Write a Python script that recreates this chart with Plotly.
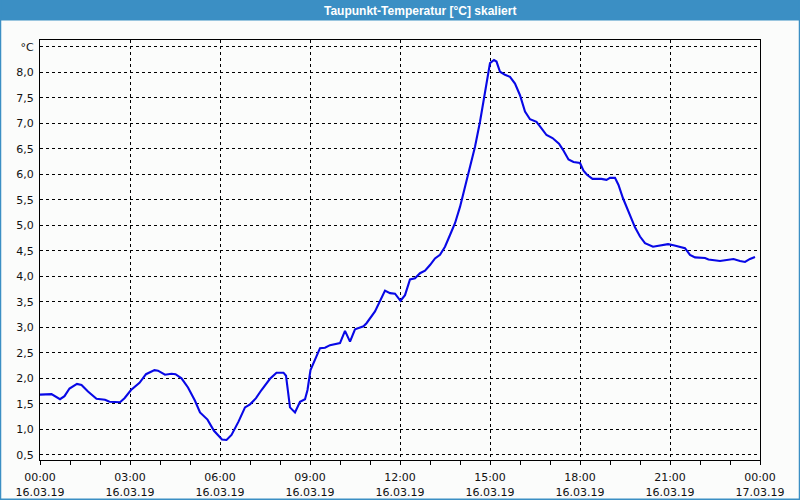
import plotly.graph_objects as go

# ---------------- data ----------------
DAY = "2019-03-16"
times = ["00:00","00:23","00:40","00:49","00:59","01:14","01:23","01:36","01:53","02:10",
         "02:19","02:40","02:49","03:02","03:19","03:32","03:49","03:56","04:10","04:23",
         "04:31","04:43","04:56","05:10","05:20","05:35","05:48","06:04","06:13","06:23",
         "06:37","06:50","07:00","07:12","07:23","07:40","07:53","08:07","08:12","08:17",
         "08:20","08:30","08:40","08:50","08:55","09:01","09:10","09:20","09:30","09:40",
         "10:00","10:10","10:20","10:30","10:47","10:53","11:10","11:20","11:30","11:40",
         "11:50","12:01","12:10","12:20","12:30","12:40","12:50","13:00","13:10","13:20",
         "13:30","13:40","13:50","14:00","14:10","14:17","14:30","14:40","14:48","14:53",
         "15:00","15:08","15:13","15:20","15:30","15:40","15:50","16:00","16:10","16:20",
         "16:33","16:43","16:53","17:05","17:18","17:26","17:37","17:47","18:00","18:07",
         "18:14","18:25","18:43","18:53","19:00","19:10","19:17","19:26","19:40","19:50",
         "20:00","20:10","20:26","20:43","20:56","21:07","21:20","21:30","21:40","21:50",
         "22:10","22:17","22:40","22:53","23:07","23:20","23:30","23:40","23:50"]
dewpoint = [1.68,1.69,1.59,1.65,1.80,1.89,1.87,1.74,1.60,1.58,
            1.54,1.53,1.61,1.77,1.91,2.08,2.16,2.15,2.07,2.09,
            2.08,2.00,1.82,1.56,1.33,1.19,0.97,0.80,0.79,0.89,
            1.15,1.43,1.49,1.61,1.77,1.99,2.11,2.11,2.05,1.71,
            1.43,1.33,1.54,1.59,1.77,2.16,2.36,2.59,2.60,2.65,
            2.69,2.93,2.72,2.96,3.02,3.08,3.31,3.53,3.72,3.67,
            3.66,3.52,3.63,3.94,3.96,4.06,4.11,4.22,4.35,4.42,
            4.58,4.81,5.04,5.36,5.76,5.99,6.54,7.03,7.52,7.82,
            8.18,8.24,8.21,8.01,7.95,7.91,7.78,7.55,7.23,7.08,
            7.03,6.90,6.77,6.71,6.60,6.48,6.29,6.24,6.22,6.07,
            5.99,5.91,5.91,5.89,5.93,5.93,5.79,5.53,5.20,4.96,
            4.78,4.65,4.58,4.61,4.63,4.61,4.57,4.55,4.42,4.37,
            4.36,4.33,4.30,4.32,4.34,4.30,4.28,4.34,4.38]

x_tick_pos = ["2019-03-16 00:00","2019-03-16 03:00","2019-03-16 06:00","2019-03-16 09:00",
              "2019-03-16 12:00","2019-03-16 15:00","2019-03-16 18:00","2019-03-16 21:00",
              "2019-03-17 00:00"]
x_tick_time = ["00:00","03:00","06:00","09:00","12:00","15:00","18:00","21:00","00:00"]
x_tick_date = ["16.03.19"]*8 + ["17.03.19"]
y_tick_vals = [0.5,1.0,1.5,2.0,2.5,3.0,3.5,4.0,4.5,5.0,5.5,6.0,6.5,7.0,7.5,8.0,8.5]
y_tick_text = ["0,5","1,0","1,5","2,0","2,5","3,0","3,5","4,0","4,5","5,0",
               "5,5","6,0","6,5","7,0","7,5","8,0","°C"]
title_text = "Taupunkt-Temperatur [°C] skaliert"

# ---------------- figure ----------------
x = [f"{DAY} {t}" for t in times]
minor_ticks = [f"{DAY} {h:02d}:00" for h in range(24)] + ["2019-03-17 00:00"]

W, H = 800, 500
L, R, T, B = 40, 40, 40, 40
pw, ph = W - L - R, H - T - B
def px(xp): return (xp - L) / pw
def py(yp): return (H - B - yp) / ph

BLUE = "#3b8fc4"
FONT = "DejaVu Sans"

fig = go.Figure(go.Scatter(x=x, y=dewpoint, mode="lines",
                           line=dict(color="#0808e6", width=2.1), hoverinfo="skip"))

shapes = [
    dict(type="rect", xref="paper", yref="paper", x0=px(0), x1=px(800), y0=py(0), y1=py(20.5),
         fillcolor=BLUE, line=dict(width=0), layer="above"),
    dict(type="line", xref="paper", yref="paper", x0=px(0.5), x1=px(0.5), y0=py(0), y1=py(500),
         line=dict(color=BLUE, width=1.5)),
    dict(type="line", xref="paper", yref="paper", x0=px(799.5), x1=px(799.5), y0=py(0), y1=py(500),
         line=dict(color=BLUE, width=1.5)),
    dict(type="line", xref="paper", yref="paper", x0=px(0), x1=px(800), y0=py(499.3), y1=py(499.3),
         line=dict(color=BLUE, width=1.5)),
]

fig.update_layout(
    width=W, height=H, autosize=False,
    margin=dict(l=L, r=R, t=T, b=B, pad=0),
    paper_bgcolor="#fbfcfb", plot_bgcolor="#fbfcfb",
    showlegend=False,
    font=dict(family=FONT, size=11, color="#111111"),
    shapes=shapes,
    annotations=[dict(text=f"<b>{title_text}</b>", xref="paper", yref="paper",
                      x=px(420), y=py(10.5), xanchor="center", yanchor="middle",
                      showarrow=False, font=dict(family="Liberation Sans", size=12, color="white"))],
)

fig.update_xaxes(
    type="date", range=["2019-03-16 00:00", "2019-03-17 00:00"],
    tickmode="array", tickvals=x_tick_pos,
    ticktext=[f"{a}<br>{b}" for a, b in zip(x_tick_time, x_tick_date)],
    ticks="outside", ticklen=4, tickcolor="black", tickwidth=1,
    minor=dict(tickmode="array", tickvals=minor_ticks, ticks="outside", ticklen=4,
               tickcolor="black", showgrid=False),
    showgrid=True, gridcolor="black", gridwidth=1, griddash="3px,3px",
    showline=True, linecolor="black", linewidth=1, mirror=True,
    zeroline=False, automargin=False, ticklabelstandoff=3,
    tickfont=dict(family=FONT, size=11, color="#111111"),
)
fig.update_yaxes(
    range=[0.398, 8.633],
    tickmode="array", tickvals=y_tick_vals, ticktext=y_tick_text,
    ticks="", showgrid=True, gridcolor="black", gridwidth=1, griddash="3px,3px",
    showline=True, linecolor="black", linewidth=1, mirror=True,
    zeroline=False, automargin=False, ticklabelstandoff=3,
    tickfont=dict(family=FONT, size=11, color="#111111"),
)

fig.write_html("out.html")
